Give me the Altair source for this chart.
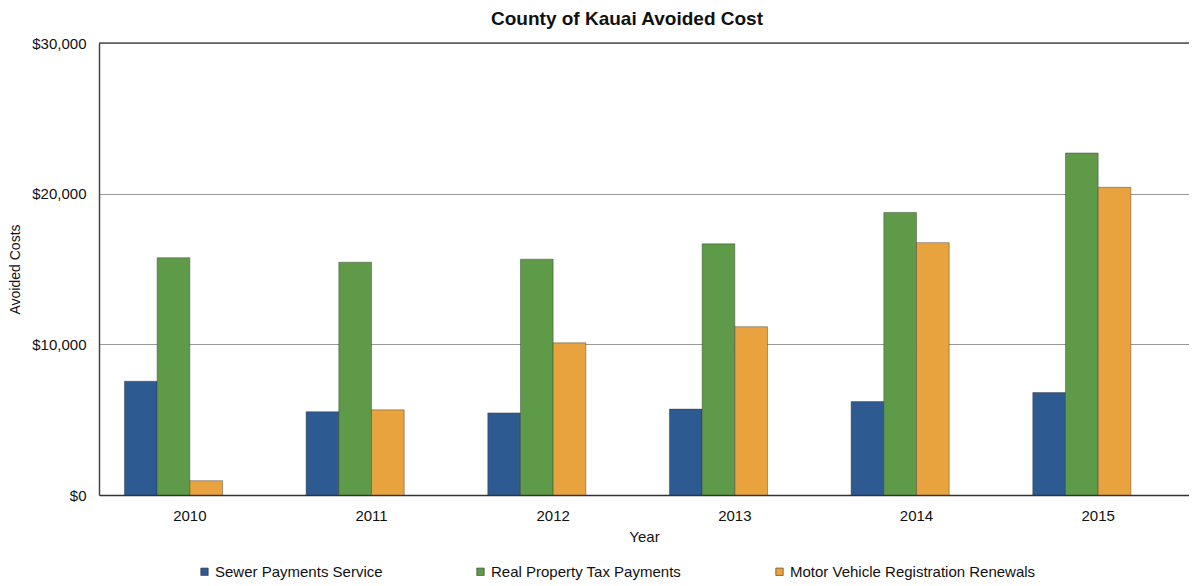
import altair as alt
import pandas as pd

years = ["2010", "2011", "2012", "2013", "2014", "2015"]
series = ["Sewer Payments Service", "Real Property Tax Payments", "Motor Vehicle Registration Renewals"]
sewer = [7550, 5530, 5450, 5700, 6200, 6800]
real_property = [15750, 15450, 15650, 16670, 18750, 22700]
motor_vehicle = [950, 5650, 10100, 11170, 16750, 20420]
colors = ["#2d5a90", "#5e9a47", "#e9a33e"]

rows = []
for name, vals in zip(series, [sewer, real_property, motor_vehicle]):
    for y, v in zip(years, vals):
        rows.append({"Year": y, "series": name, "value": v})
df = pd.DataFrame(rows)

font = "Liberation Sans"
fs = 15

bars = alt.Chart(df).mark_bar(stroke="#333333", strokeWidth=0.7, strokeOpacity=0.6).encode(
    x=alt.X("Year:N", scale=alt.Scale(domain=years, paddingInner=0.28, paddingOuter=0.14),
            axis=alt.Axis(title="Year", labelAngle=0, ticks=False, domainColor="#333333",
                          domainWidth=1.5, labelPadding=13, titlePadding=6,
                          labelFontSize=fs, titleFontSize=fs, titleFontWeight="normal",
                          labelFont=font, titleFont=font, labelColor="#111", titleColor="#111")),
    xOffset=alt.XOffset("series:N", scale=alt.Scale(domain=series + ["_"])),
    y=alt.Y("value:Q", scale=alt.Scale(domain=[0, 30000], nice=False),
            axis=alt.Axis(title="Avoided Costs", values=[0, 10000, 20000, 30000], format="$,.0f",
                          ticks=False, domainColor="#444444", domainWidth=1.5, gridColor="#999999",
                          labelPadding=13, titlePadding=9, labelFontSize=fs, titleFontSize=14,
                          titleFontWeight="normal", labelFont=font, titleFont=font,
                          labelColor="#111", titleColor="#111")),
    color=alt.Color("series:N", scale=alt.Scale(domain=series, range=colors),
                    legend=alt.Legend(title=None, orient="none", legendX=98, legendY=521,
                                      direction="horizontal", columns=3, columnPadding=90,
                                      symbolType="square", symbolSize=55, symbolStrokeWidth=0.6,
                                      symbolStrokeColor="#333333", labelLimit=500,
                                      labelFontSize=fs, labelFont=font, labelColor="#111",
                                      labelOffset=3)),
)

top_df = pd.DataFrame({"v": [30000]})
top_rule = alt.Chart(top_df).mark_rule(color="#555555", strokeWidth=1.5).encode(y="v:Q")

chart = alt.layer(bars, top_rule).properties(
    width=1090, height=452,
    title=alt.TitleParams("County of Kauai Avoided Cost", fontSize=19, font=font,
                          fontWeight="bold", color="#111", offset=7, dx=-17, anchor="middle"),
    autosize=alt.AutoSizeParams(type="none"),
    padding={"left": 91, "top": 35, "right": 0, "bottom": 100},
).configure_view(stroke=None)

chart.save("out.html", embed_options={"renderer": "svg", "actions": False})
